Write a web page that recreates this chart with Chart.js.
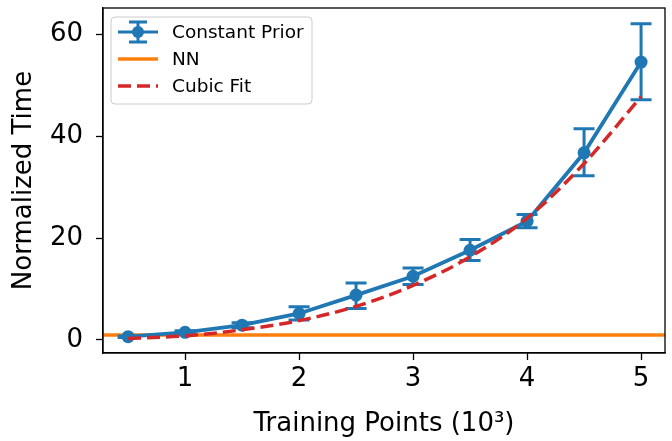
<!DOCTYPE html>
<html>
<head>
<meta charset="utf-8">
<script src="https://cdn.jsdelivr.net/npm/chart.js@4.4.1/dist/chart.umd.min.js"></script>
<style>
  html, body { margin: 0; padding: 0; background: #fff; }
  #wrap { width: 672px; height: 441px; }
</style>
</head>
<body>
<div id="wrap"><canvas id="myChart" width="672" height="441"></canvas></div>
<script>
// values
const trainingPoints = [0.5, 1, 1.5, 2, 2.5, 3, 3.5, 4, 4.5, 5]
const constantPrior = [0.65, 1.5, 2.9, 5.2, 8.8, 12.5, 17.6, 23.3, 36.7, 54.5]
const priorLow = [0.5, 1.2, 2.4, 3.9, 6.2, 10.9, 15.6, 22.0, 32.2, 47.1]
const priorHigh = [0.8, 1.8, 3.4, 6.5, 11.2, 14.1, 19.7, 24.6, 41.4, 62.0]
const cubicFit = [0.3, 0.8, 2.0, 3.8, 6.6, 10.7, 16.3, 23.9, 34.6, 47.7]
const nnTime = 1.0
const xTicks = [1, 2, 3, 4, 5]
const yTicks = [0, 20, 40, 60]
const xLimits = [0.28, 5.21]
const yLimits = [-2.55, 65.1]

const azul = '#1f77b4'
const laranja = '#ff7f0e'
const vermelho = '#d62728'
const fonte = 'DejaVu Sans'

const pontos = (ys) => trainingPoints.map((x, i) => ({ x: x, y: ys[i] }))

// error bars drawn right after the blue dataset
const errorBars = {
    id: 'errorBars',
    afterDatasetDraw(chart, args) {
        if (args.index !== 0) return
        const ctx = chart.ctx
        const x = chart.scales.x
        const y = chart.scales.y
        ctx.save()
        ctx.strokeStyle = azul
        ctx.lineWidth = 3
        trainingPoints.forEach((tp, i) => {
            const px = x.getPixelForValue(tp)
            const top = y.getPixelForValue(priorHigh[i])
            const bot = y.getPixelForValue(priorLow[i])
            ctx.beginPath()
            ctx.moveTo(px, top); ctx.lineTo(px, bot)
            ctx.moveTo(px - 10.5, top); ctx.lineTo(px + 10.5, top)
            ctx.moveTo(px - 10.5, bot); ctx.lineTo(px + 10.5, bot)
            ctx.stroke()
        })
        ctx.restore()
    }
}

// top and right spines + matplotlib-like legend
const moldura = {
    id: 'moldura',
    afterDraw(chart) {
        const ctx = chart.ctx
        const a = chart.chartArea
        ctx.save()
        ctx.strokeStyle = '#000'
        ctx.lineWidth = 1.3
        ctx.strokeRect(a.left, a.top, a.right - a.left, a.bottom - a.top)

        // legend box
        const bx = 111, by = 17, bw = 201, bh = 87, r = 4
        ctx.beginPath()
        ctx.roundRect(bx, by, bw, bh, r)
        ctx.fillStyle = 'rgba(255,255,255,0.8)'
        ctx.fill()
        ctx.strokeStyle = '#cccccc'
        ctx.lineWidth = 1
        ctx.stroke()

        const hx0 = 118, hx1 = 158, hc = 138
        const rows = [32, 59, 86]
        // errorbar handle
        ctx.strokeStyle = azul
        ctx.lineWidth = 3
        ctx.beginPath()
        ctx.moveTo(hx0, rows[0]); ctx.lineTo(hx1, rows[0])
        ctx.moveTo(hc, rows[0] - 10); ctx.lineTo(hc, rows[0] + 10)
        ctx.moveTo(hc - 9, rows[0] - 10); ctx.lineTo(hc + 9, rows[0] - 10)
        ctx.moveTo(hc - 9, rows[0] + 10); ctx.lineTo(hc + 9, rows[0] + 10)
        ctx.stroke()
        ctx.fillStyle = azul
        ctx.beginPath()
        ctx.arc(hc, rows[0], 6, 0, Math.PI * 2)
        ctx.fill()
        // NN handle
        ctx.strokeStyle = laranja
        ctx.lineWidth = 3.5
        ctx.beginPath()
        ctx.moveTo(hx0, rows[1]); ctx.lineTo(hx1, rows[1])
        ctx.stroke()
        // cubic handle
        ctx.strokeStyle = vermelho
        ctx.setLineDash([13, 6])
        ctx.beginPath()
        ctx.moveTo(hx0, rows[2]); ctx.lineTo(hx1, rows[2])
        ctx.stroke()
        ctx.setLineDash([])

        ctx.fillStyle = '#000'
        ctx.font = '18.5px "' + fonte + '"'
        ctx.textBaseline = 'middle'
        const nomes = ['Constant Prior', 'NN', 'Cubic Fit']
        nomes.forEach((n, i) => ctx.fillText(n, 172, rows[i] + 1))
        ctx.restore()
    }
}

const ctx = document.getElementById('myChart').getContext('2d')
const myChart = new Chart(ctx, {
    type: 'line',
    data: {
        datasets: [{
            label: 'Constant Prior',
            data: pontos(constantPrior),
            borderColor: azul,
            backgroundColor: azul,
            borderWidth: 3.8,
            pointRadius: 6.5,
            pointHoverRadius: 6.5,
            pointBorderWidth: 0,
            order: 2
        }, {
            label: 'NN',
            data: [{ x: xLimits[0], y: nnTime }, { x: xLimits[1], y: nnTime }],
            borderColor: laranja,
            borderWidth: 3.5,
            pointRadius: 0,
            order: 3
        }, {
            label: 'Cubic Fit',
            data: pontos(cubicFit),
            borderColor: vermelho,
            borderWidth: 3.5,
            borderDash: [13, 6],
            pointRadius: 0,
            cubicInterpolationMode: 'monotone',
            order: 1
        }]
    },
    options: {
        responsive: false,
        animation: false,
        layout: { padding: { top: 8, right: 7, left: 0, bottom: 0 } },
        plugins: {
            legend: { display: false },
            tooltip: { enabled: false }
        },
        scales: {
            x: {
                type: 'linear',
                min: xLimits[0],
                max: xLimits[1],
                afterBuildTicks: (s) => { s.ticks = xTicks.map(v => ({ value: v })) },
                afterFit: (s) => { s.height = 88; s.paddingLeft = 0; s.paddingRight = 0 },
                grid: { drawOnChartArea: false, drawTicks: true, tickLength: 7, tickColor: '#000', tickWidth: 1.3 },
                border: { display: true, color: '#000', width: 1.3 },
                ticks: { color: '#000', padding: 4, font: { family: fonte, size: 26 }, maxRotation: 0 },
                title: { display: true, text: 'Training Points (10³)', color: '#000', font: { family: fonte, size: 26, lineHeight: 1 }, padding: { top: 0 } }
            },
            y: {
                min: yLimits[0],
                max: yLimits[1],
                afterBuildTicks: (s) => { s.ticks = yTicks.map(v => ({ value: v })) },
                afterFit: (s) => { s.width = 103; s.paddingTop = 0; s.paddingBottom = 0 },
                grid: { drawOnChartArea: false, drawTicks: true, tickLength: 7, tickColor: '#000', tickWidth: 1.3 },
                border: { display: true, color: '#000', width: 1.3 },
                ticks: { color: '#000', padding: 13, font: { family: fonte, size: 26 } },
                title: { display: true, text: 'Normalized Time', color: '#000', font: { family: fonte, size: 26 }, padding: { top: 9 } }
            }
        }
    },
    plugins: [errorBars, moldura]
})
</script>
</body>
</html>
